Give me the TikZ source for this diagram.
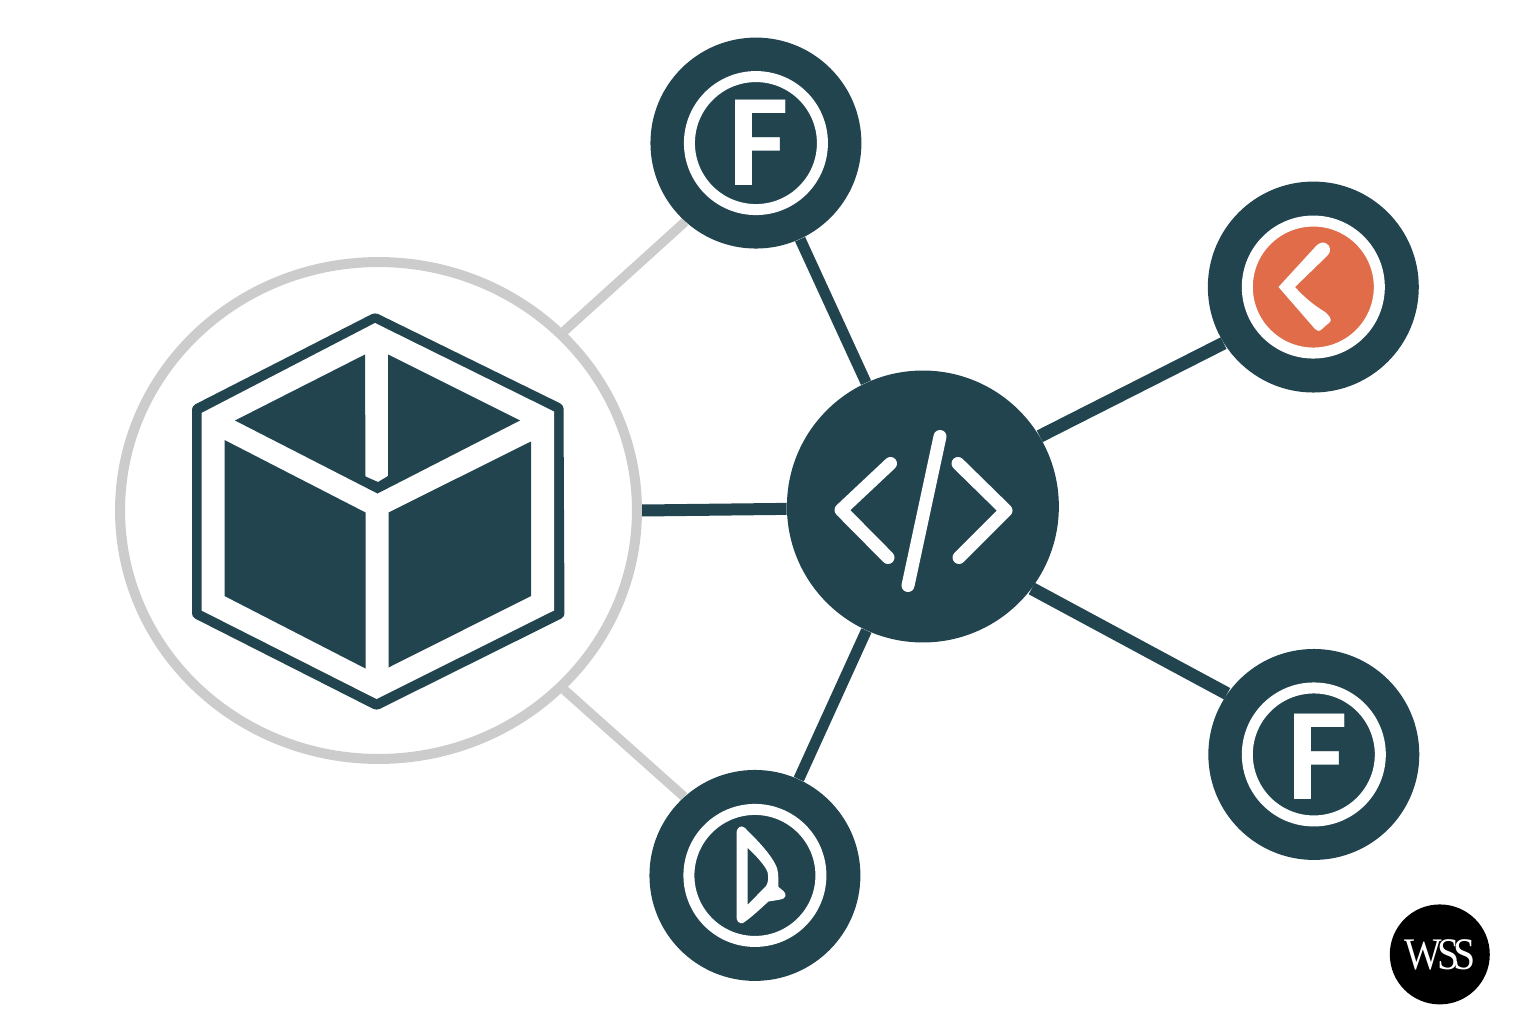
\documentclass[tikz,border=0pt]{standalone}
\usepackage{fontspec}
\setsansfont{Carlito}
\newfontfamily\stampfont{Liberation Serif}
\usepackage{tikz}
\usetikzlibrary{positioning,backgrounds,shapes.geometric}
\definecolor{teal1}{HTML}{21444F}
\definecolor{coral1}{HTML}{E06C4A}
\definecolor{ash1}{HTML}{CCCCCC}

\begin{document}
\begin{tikzpicture}[
    x=0.02cm,
    y=-0.02cm,
    node distance=5cm,
    hubring/.style={
		ellipse,
		draw=ash1,
		line width=0.2cm,
		inner sep=0pt,
		minimum width=10.34cm,
		minimum height=9.94cm,
		fill=white
	},
	badge/.style={
		circle,
		inner sep=0pt,
		minimum size=4.22cm,
		fill=teal1,
		text=white,
		font=\bfseries\sffamily\fontsize{75}{75}\selectfont
	},
	codehub/.style={
		circle,
		inner sep=0pt,
		minimum size=5.44cm,
		fill=teal1
	},
	stamp/.style={
		circle,
		inner sep=0pt,
		minimum size=2cm,
		fill=black,
		text=white,
		font=\stampfont\fontsize{25.7}{26}\selectfont
	},
	ring/.style={
		draw=white,
		line width=0.22cm
	},
	wire/.style={
		draw=teal1,
		line width=0.22cm
	},
	wirepale/.style={
		draw=ash1,
		line width=0.19cm
	},
	glyph/.style={
		draw=white,
		line width=0.26cm,
		line cap=round,
		line join=round
	}
  ]
  \useasboundingbox (0,0) rectangle (1536,1024);

    % We start by placing the blocks

  \node [hubring] (hub) at (378.5,510.5) {};

  \node [codehub, right of=hub, xshift=5.89cm, yshift=0.08cm] (code) {};

  \node [badge, above of=code, xshift=-3.34cm, yshift=2.27cm] (ftop) {\kern3pt F};

  \node [badge, below of=code, xshift=-3.36cm, yshift=-2.38cm] (dbot) {};

  \node [badge, above of=code, xshift=7.81cm, yshift=-0.61cm] (back) {};

  \node [badge, below of=code, xshift=7.82cm, yshift=0.04cm] (fright)
 {\kern4.5pt\raisebox{-1.1pt}[\height][0pt]{F}};

  \node [stamp, below of=fright, xshift=2.52cm, yshift=1cm] (wss)
 {\scalebox{0.88}[1]{W\kern-0.12em S\kern-0.16em S}};

 % rings inside the badges
 \draw [ring] (ftop) circle [radius=66.5];
 \draw [ring] (dbot) circle [radius=66];
 \draw [ring] (fright) circle [radius=66.5];
 \draw [ring, fill=coral1] (back) circle [radius=66];

 % connectors go behind the blocks
 \begin{scope}[on background layer]
 \draw [wirepale] (hub.44) -- (ftop.228);
 \draw [wirepale] (hub.-44) -- (dbot.132);
 \draw [wire, line width=0.24cm] (hub.east) -- (code.181.5);
 \draw [wire] (code) -- (ftop);
 \draw [wire] (code) -- (dbot);
 \draw [wire, line width=0.26cm] (code.31) -- (back.212);
 \draw [wire, line width=0.26cm] (code.-37) -- (fright.145);
 \end{scope}

 % the box
 \fill [teal1, rounded corners=2] (375,312.5) -- (563.5,405) -- (564.5,617) -- (376.5,710.5)
   -- (192,617) -- (192,406) -- cycle;
 \fill [white] (375,323) -- (554,411.5) -- (554,610.5) -- (376.5,699) -- (201.5,610.5) -- (201.5,413) -- cycle;
 \fill [teal1] (235,420.5) -- (365,354.5) -- (365.5,476.5) -- (378,482) -- (388,476) -- (388,354.5)
   -- (520,420.5) -- (377.5,493.5) -- cycle;
 \fill [teal1] (224.5,440) -- (365.5,512.5) -- (365.5,668.5) -- (224.5,596) -- cycle;
 \fill [teal1] (388.5,512.5) -- (531,441.5) -- (531,596) -- (388.5,667.5) -- cycle;

 % icon of the middle block
 \draw [glyph] (890.5,463.5) -- (841,510) -- (888,557.5);
 \draw [glyph] (958,463.5) -- (1006,510.5) -- (959,557.5);
 \draw [glyph] (940,436.5) -- (908,585.5);

 % icon of the coral badge
 \fill [white] (1278.5,287) -- (1317,245) .. controls (1322,241) and (1326,242) .. (1329,246)
   .. controls (1331,250) and (1330,253) .. (1327,256) -- (1295,287)
   .. controls (1303,296) and (1312,304) .. (1325,312) .. controls (1330,316) and (1332,320) .. (1330,322)
   -- (1322,329) .. controls (1319,332) and (1317,331) .. (1315,329) -- cycle;

 % icon of the lower badge
 \fill [white, even odd rule] (736.5,834) .. controls (736.5,827) and (741,824.5) .. (745,828)
   .. controls (757,840) and (772,855) .. (777,868) .. controls (779,874) and (778,882) .. (778.5,887)
   .. controls (782,890) and (786,892) .. (785.5,896) .. controls (785,900) and (776,900) .. (768.5,901.5)
   .. controls (760,909) and (752,917) .. (743,923) .. controls (739,924) and (736.5,921) .. (736.5,917) -- cycle
   (747.5,847.5) .. controls (755,855) and (765,865) .. (767.5,872) .. controls (769,878) and (768,883) .. (766,886)
   -- (747.5,905) -- cycle;

\end{tikzpicture}
\end{document}
